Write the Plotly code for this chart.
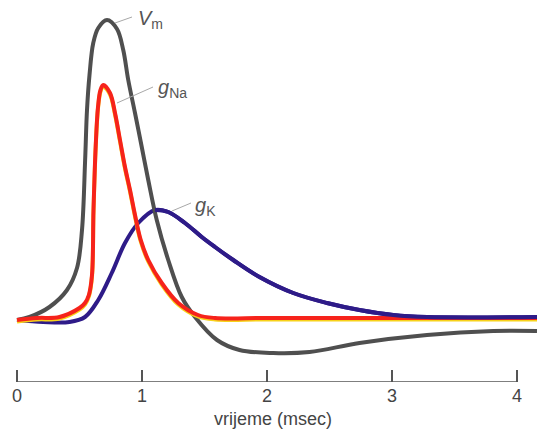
import plotly.graph_objects as go

# time axis (msec)
tick_vals = [0, 1, 2, 3, 4]
tick_text = ["0", "1", "2", "3", "4"]
x_title = "vrijeme (msec)"

# membrane potential V_m (arbitrary units, baseline = 0)
t_vm = [0.0, 0.10, 0.26, 0.40, 0.48, 0.52, 0.545, 0.56, 0.58, 0.61, 0.65,
        0.72, 0.80, 0.85, 0.89, 0.944, 0.998, 1.05, 1.118, 1.21, 1.318, 1.424,
        1.60, 1.78, 2.05, 2.34, 2.74, 3.28, 3.81, 4.16]
vm = [0, 3, 13, 30, 52, 90, 160, 210, 245, 277, 292,
      300, 291, 270, 240, 207, 173, 140, 100, 60, 23, 3,
      -20, -30, -33, -32, -23, -15, -11, -11]

# sodium conductance g_Na
t_na = [0.0, 0.16, 0.34, 0.50, 0.544, 0.575, 0.60, 0.612, 0.63, 0.648, 0.668, 0.69,
        0.744, 0.784, 0.824, 0.864, 0.904, 0.944, 0.99, 1.05, 1.158, 1.29, 1.448,
        1.584, 2.0, 3.0, 4.16]
g_na = [0, 2, 3, 12, 17, 25, 45, 110, 175, 213, 230, 235,
        227, 207, 180, 153, 130, 105, 80, 60, 37, 17, 5,
        2, 2, 2, 2]

# potassium conductance g_K
t_k = [0.0, 0.21, 0.42, 0.544, 0.65, 0.758, 0.864, 0.97, 1.104, 1.21, 1.344,
       1.478, 1.584, 1.73, 1.94, 2.21, 2.48, 2.74, 3.01, 3.28, 4.16]
g_k = [0, -2, -2, 3, 20, 47, 77, 97, 110, 108, 97,
       83, 73, 60, 43, 27, 17, 10, 5, 3, 3]

# labels
labels = ["<i>V</i><sub>m</sub>", "<i>g</i><sub>Na</sub>", "<i>g</i><sub>K</sub>"]
label_x = [0.952, 1.112, 1.408]
label_y = [301, 232, 114]
leader_x0 = [0.784, 0.80, 1.24]
leader_y0 = [297, 217, 109]
leader_x1 = [0.92, 1.088, 1.392]
leader_y1 = [303, 233, 117]

GRAY = "#4f4f4f"
RED = "#f6231b"
BLUE = "#2e1b88"
FONT = "Liberation Sans, Arial, sans-serif"
LINE = dict(width=4, shape="spline", smoothing=1.0)

fig = go.Figure()
fig.add_trace(go.Scatter(x=t_k, y=g_k, mode="lines", line=dict(color=BLUE, **LINE)))
fig.add_trace(go.Scatter(x=t_vm, y=vm, mode="lines", line=dict(color=GRAY, **LINE)))
fig.add_trace(go.Scatter(x=t_na, y=[v - 1.5 for v in g_na], mode="lines",
                         line=dict(color="#f7d21a", **LINE)))
fig.add_trace(go.Scatter(x=t_na, y=g_na, mode="lines", line=dict(color=RED, **LINE)))
# g_K drawn over g_Na on the right tail
fig.add_trace(go.Scatter(x=t_k[8:], y=g_k[8:], mode="lines", line=dict(color=BLUE, **LINE)))

shapes = [dict(type="line", xref="x", yref="y", x0=0, x1=4, y0=-62, y1=-62,
               line=dict(color="#555555", width=1.5))]
for i in range(3):
    shapes.append(dict(type="line", xref="x", yref="y", x0=leader_x0[i], y0=leader_y0[i],
                       x1=leader_x1[i], y1=leader_y1[i], line=dict(color="#a8a8a8", width=1)))

annotations = []
for i in range(3):
    annotations.append(dict(x=label_x[i], y=label_y[i], xref="x", yref="y", text=labels[i],
                            showarrow=False, xanchor="left", yanchor="middle",
                            font=dict(family=FONT, size=20, color="#555555")))
annotations.append(dict(x=2.048, y=0, xref="x", yref="paper", yshift=-37, text=x_title,
                        showarrow=False, xanchor="center", yanchor="middle",
                        font=dict(family=FONT, size=18, color="#444444")))

fig.update_layout(
    width=539, height=430,
    margin=dict(l=2, r=0, t=5, b=48),
    paper_bgcolor="white", plot_bgcolor="white",
    showlegend=False,
    shapes=shapes, annotations=annotations,
    xaxis=dict(range=[-0.12, 4.176], showgrid=False, zeroline=False, showline=False,
               tickmode="array", tickvals=tick_vals, ticktext=tick_text,
               ticks="inside", ticklen=12, tickwidth=1.5, tickcolor="#555555",
               ticklabelstandoff=1,
               tickfont=dict(family=FONT, size=18, color="#444444")),
    yaxis=dict(range=[-62, 315], visible=False),
)

fig.write_html("out.html", config={"displayModeBar": False},
               post_script="document.body.style.margin='0px';document.body.style.overflow='hidden';")
